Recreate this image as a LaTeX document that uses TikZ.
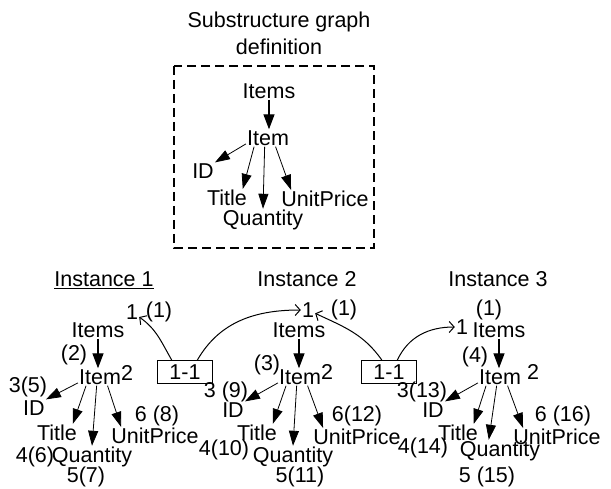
\documentclass[tikz,border=0pt]{standalone}
\usepackage{fontspec}
\setmainfont{Liberation Sans}
\usetikzlibrary{arrows.meta,positioning}

\begin{document}
\begin{tikzpicture}
[x=1pt, y=-1pt,
 every node/.style={inner sep=1pt,font=\fontsize{21.5}{27}\selectfont},
 linkbox/.style={rectangle,draw,line width=0.9pt,minimum width=55pt,minimum height=23pt,inner sep=0pt},
 defbox/.style={draw,line width=1.5pt,dash pattern=on 9pt off 5pt},
 root edge/.style={line width=1.4pt,-{Triangle[length=15pt,width=11pt]}},
 leaf edge/.style={line width=0.8pt,-{Triangle[length=15pt,width=10pt]}},
 link edge/.style={line width=1pt,-{Straight Barb[length=5pt,width=11pt]}}]
\useasboundingbox (0,0) rectangle (611,489);
% substructure definition
\node[align=center] (head)  at (279, 33) {Substructure graph\\definition};
\draw[defbox] (174,66) rectangle (374,248);
\node (Ditems)  at (269, 91) {Items};
\node (Ditem)   at (268,138) {Item};
\node (Did)     at (203,171) {ID};
\node (Dtitle)  at (227,198) {Title};
\node (Dqty)    at (263,220) {Quantity};
\node (Dprice)  at (325,199) {UnitPrice};
% instance 1
\node (I1head)  at (104,280) {\underline{Instance 1}};
\node (I1one)   at (132,312) {1};
\node (I1onep)  at (159,312) {(1)};
\node (I1items) at ( 98,330) {Items};
\node (I1p)     at ( 74,355) {(2)};
\node (I1item)  at (100,377) {Item};
\node (I1sup)   at (127,373) {2};
\node (I1nid)   at ( 28,387) {3(5)};
\node (I1id)    at ( 34,408) {ID};
\node (I1title) at ( 57,433) {Title};
\node (I1ntit)  at ( 35,457) {4(6)};
\node (I1qty)   at ( 92,457) {Quantity};
\node (I1nqty)  at ( 86,477) {5(7)};
\node (I1npr)   at (157,416) {6 (8)};
\node (I1price) at (155,436) {UnitPrice};
% instance 2
\node (I2head)  at (307,279) {Instance 2};
\node (I2one)   at (308,310) {1};
\node (I2onep)  at (344,310) {(1)};
\node (I2items) at (299,330) {Items};
\node (I2p)     at (267,365) {(3)};
\node (I2item)  at (300,377) {Item};
\node (I2sup)   at (327,372) {2};
\node (I2nid)   at (226,392) {3 (9)};
\node (I2id)    at (233,410) {ID};
\node (I2title) at (257,433) {Title};
\node (I2ntit)  at (224,450) {4(10)};
\node (I2qty)   at (293,457) {Quantity};
\node (I2nqty)  at (300,477) {5(11)};
\node (I2npr)   at (357,416) {6(12)};
\node (I2price) at (357,437) {UnitPrice};
% instance 3
\node (I3head)  at (498,279) {Instance 3};
\node (I3onep)  at (489,310) {(1)};
\node (I3one)   at (462,327) {1};
\node (I3items) at (499,330) {Items};
\node (I3p)     at (475,357) {(4)};
\node (I3item)  at (500,377) {Item};
\node (I3sup)   at (533,372) {2};
\node (I3nid)   at (422,392) {3(13)};
\node (I3id)    at (433,410) {ID};
\node (I3title) at (458,433) {Title};
\node (I3ntit)  at (423,448) {4(14)};
\node (I3qty)   at (500,451) {Quantity};
\node (I3nqty)  at (487,477) {5 (15)};
\node (I3npr)   at (563,416) {6 (16)};
\node (I3price) at (557,437) {UnitPrice};
% 1-1 mappings
\node[linkbox] (B1) at (185,372) {1-1};
\node[linkbox] (B2) at (389,372) {1-1};
\path (Ditems.south)  edge[root edge] (Ditems.south |- Ditem.north)
      (Ditem.195)     edge[leaf edge] (Did.north east)
      (Ditem.212)     edge[leaf edge] (Dtitle.30)
      (Ditem.249)     edge[leaf edge] (Dqty.north)
      (Ditem.-49)     edge[leaf edge] (Dprice.165)
      (I1items.south) edge[root edge] (I1items.south |- I1item.north)
      (I1item.195)    edge[leaf edge] (I1id.north east)
      (I1item.212)    edge[leaf edge] (I1title.30)
      (I1item.249)    edge[leaf edge] (I1qty.north)
      (I1item.-49)    edge[leaf edge] (I1price.165)
      (I2items.south) edge[root edge] (I2items.south |- I2item.north)
      (I2item.195)    edge[leaf edge] (I2id.north east)
      (I2item.212)    edge[leaf edge] (I2title.30)
      (I2item.249)    edge[leaf edge] (I2qty.north)
      (I2item.-49)    edge[leaf edge] (I2price.165)
      (I3items.south) edge[root edge] (I3items.south |- I3item.north)
      (I3item.195)    edge[leaf edge] (I3id.north east)
      (I3item.212)    edge[leaf edge] (I3title.30)
      (I3item.249)    edge[leaf edge] (I3qty.135)
      (I3item.-49)    edge[leaf edge] (I3price.165)
      (B1.138)        edge[link edge,out=120,in=-35] (I1one)
      (B1.44)         edge[link edge,out=60,in=180]  (I2one)
      (B2.121)        edge[link edge,out=125,in=-25] (I2one)
      (B2.55)         edge[link edge,out=65,in=180]  (I3one);
\end{tikzpicture}
\end{document}
